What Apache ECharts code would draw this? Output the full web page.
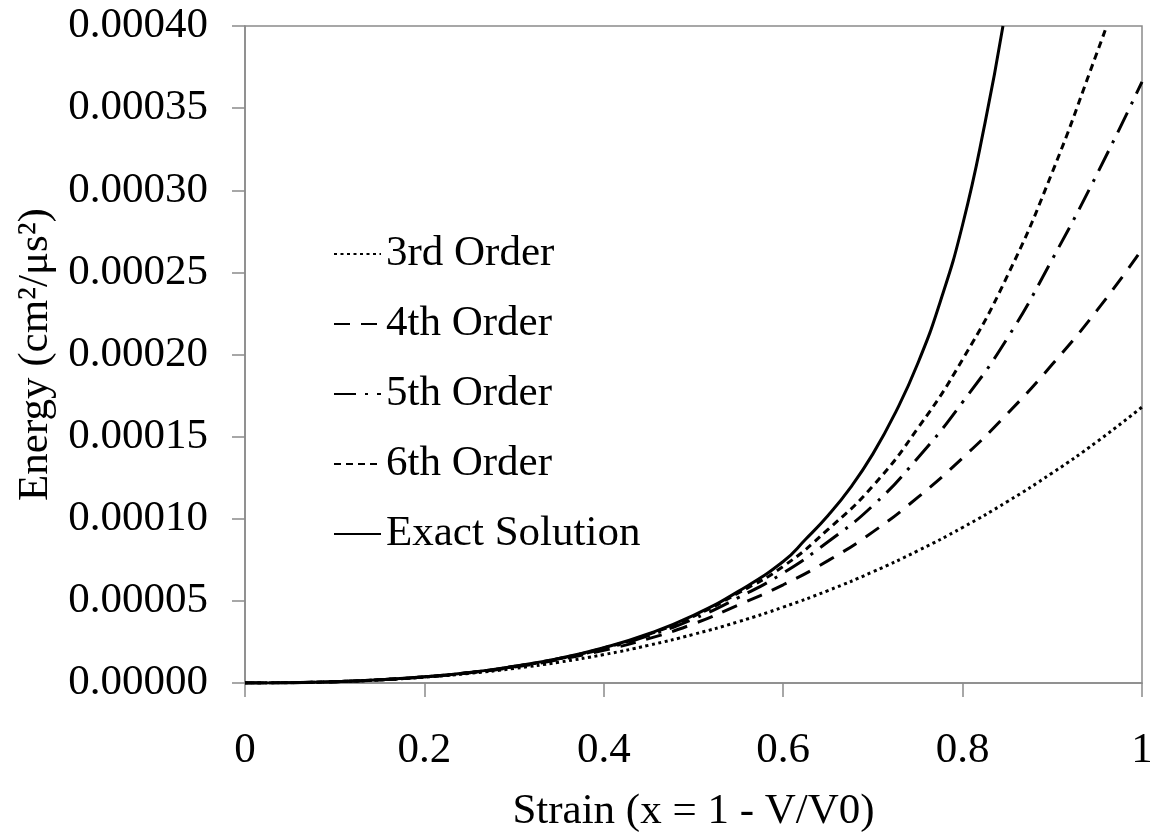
<!DOCTYPE html>
<html>
<head>
<meta charset="utf-8">
<script src="https://cdn.jsdelivr.net/npm/echarts@6/dist/echarts.min.js"></script>
<style>
  html, body { margin: 0; padding: 0; background: #fff; }
  #chart { width: 1150px; height: 832px; }
</style>
</head>
<body>
<div id="chart"></div>
<script>
// Strain sample points (x = 1 - V/V0)
const strain = [0, 0.05, 0.1, 0.15, 0.2, 0.25, 0.3, 0.35, 0.4, 0.45, 0.5,
                0.55, 0.6, 0.65, 0.7, 0.75, 0.8, 0.85, 0.9, 0.95, 1.0];

// Energy (cm^2/us^2) for each expansion order
const order3 = [0, 1.84e-7, 7.86e-7, 1.88e-6, 3.54e-6, 5.84e-6, 8.86e-6, 1.267e-5, 1.73e-5, 2.295e-5, 2.96e-5,
                3.73e-5, 4.62e-5, 5.63e-5, 6.77e-5, 8.05e-5, 9.47e-5, 1.105e-4, 1.279e-4, 1.47e-4, 1.68e-4];
const order4 = [0, 1.85e-7, 8.0e-7, 1.93e-6, 3.7e-6, 6.2e-6, 9.7e-6, 1.42e-5, 1.99e-5, 2.7e-5, 3.6e-5,
                4.75e-5, 5.98e-5, 7.45e-5, 9.2e-5, 1.13e-4, 1.37e-4, 1.64e-4, 1.94e-4, 2.27e-4, 2.64e-4];
const order5 = [0, 1.85e-7, 8.0e-7, 1.94e-6, 3.73e-6, 6.3e-6, 1.0e-5, 1.47e-5, 2.09e-5, 2.88e-5, 3.9e-5,
                5.2e-5, 6.7e-5, 8.6e-5, 1.08e-4, 1.37e-4, 1.71e-4, 2.1e-4, 2.58e-4, 3.1e-4, 3.66e-4];

// 6th order and the exact curve leave the plot through the top edge
const strain6 = [0, 0.05, 0.1, 0.15, 0.2, 0.25, 0.3, 0.35, 0.4, 0.45, 0.5,
                 0.55, 0.6, 0.65, 0.7, 0.75, 0.8, 0.85, 0.9, 0.95, 0.9606];
const order6 = [0, 1.85e-7, 8.0e-7, 1.94e-6, 3.74e-6, 6.32e-6, 1.01e-5, 1.49e-5, 2.13e-5, 2.96e-5, 4.06e-5,
                5.48e-5, 7.1e-5, 9.35e-5, 1.2e-4, 1.55e-4, 1.97e-4, 2.48e-4, 3.11e-4, 3.84e-4, 4.0e-4];

const strainExact = [0, 0.05, 0.1, 0.15, 0.2, 0.25, 0.3, 0.35, 0.4, 0.45, 0.5, 0.55,
                     0.6, 0.625, 0.65, 0.675, 0.7, 0.725, 0.75, 0.775, 0.8, 0.825, 0.845];
const exact = [0, 1.85e-7, 8.0e-7, 1.94e-6, 3.75e-6, 6.35e-6, 1.02e-5, 1.5e-5, 2.15e-5, 3.0e-5, 4.12e-5, 5.58e-5,
               7.4e-5, 8.75e-5, 1.02e-4, 1.19e-4, 1.395e-4, 1.645e-4, 1.945e-4, 2.32e-4, 2.79e-4, 3.41e-4, 4.0e-4];

const seriesNames = ['3rd Order', '4th Order', '5th Order', '6th Order', 'Exact Solution'];

const FONT = '"Liberation Serif", "Times New Roman", serif';
const AXIS_GRAY = '#8a8a8a';
const FS = 43;

function pairs(xs, ys) {
  return xs.map((x, i) => [x, ys[i]]);
}

function lineSeries(name, xs, ys, dash) {
  return {
    name: name,
    type: 'line',
    data: pairs(xs, ys),
    smooth: 0.5,
    symbol: 'none',
    clip: true,
    lineStyle: { color: '#000', width: 3, type: dash, cap: 'butt' },
    itemStyle: { color: '#000' },
    emphasis: { disabled: true }
  };
}

const chart = echarts.init(document.getElementById('chart'), null, { renderer: 'canvas' });

chart.setOption({
  animation: false,
  backgroundColor: '#fff',
  textStyle: { fontFamily: FONT },
  grid: {
    left: 245, right: 8, top: 26, bottom: 149,
    outerBoundsMode: 'none',
    containLabel: false,
    show: true, borderColor: AXIS_GRAY, borderWidth: 1.5, backgroundColor: 'transparent'
  },
  legend: {
    data: seriesNames,
    orient: 'vertical',
    left: 333,
    top: 231,
    padding: 0,
    itemWidth: 47,
    itemHeight: 14,
    itemGap: 24,
    // line samples only, no marker dot
    itemStyle: { opacity: 0 },
    textStyle: { fontFamily: FONT, fontSize: FS, lineHeight: 46, color: '#000' },
    selectedMode: false
  },
  xAxis: {
    type: 'value',
    min: 0, max: 1, interval: 0.2,
    name: 'Strain (x = 1 - V/V0)',
    nameLocation: 'middle',
    nameGap: 107,
    nameTextStyle: { fontFamily: FONT, fontSize: FS, color: '#000' },
    axisLine: { show: true, lineStyle: { color: AXIS_GRAY, width: 1.5 } },
    axisTick: { show: true, inside: false, length: 14, lineStyle: { color: AXIS_GRAY, width: 1.5 } },
    axisLabel: { fontFamily: FONT, fontSize: FS, color: '#000', margin: 46 },
    splitLine: { show: false }
  },
  yAxis: {
    type: 'value',
    min: 0, max: 0.0004, interval: 0.00005,
    name: 'Energy (cm²/μs²)',
    nameLocation: 'middle',
    nameGap: 188,
    nameTextStyle: { fontFamily: FONT, fontSize: FS, color: '#000' },
    axisLine: { show: true, lineStyle: { color: AXIS_GRAY, width: 1.5 } },
    axisTick: { show: true, inside: false, length: 13, lineStyle: { color: AXIS_GRAY, width: 1.5 } },
    axisLabel: {
      fontFamily: FONT, fontSize: FS, color: '#000', margin: 37,
      formatter: v => v.toFixed(5)
    },
    splitLine: { show: false }
  },
  series: [
    lineSeries('3rd Order', strain, order3, [3, 3.5]),
    lineSeries('4th Order', strain, order4, [16, 11]),
    lineSeries('5th Order', strain, order5, [22, 9, 3, 9]),
    lineSeries('6th Order', strain6, order6, [7, 5]),
    lineSeries('Exact Solution', strainExact, exact, 'solid')
  ]
});
</script>
</body>
</html>
